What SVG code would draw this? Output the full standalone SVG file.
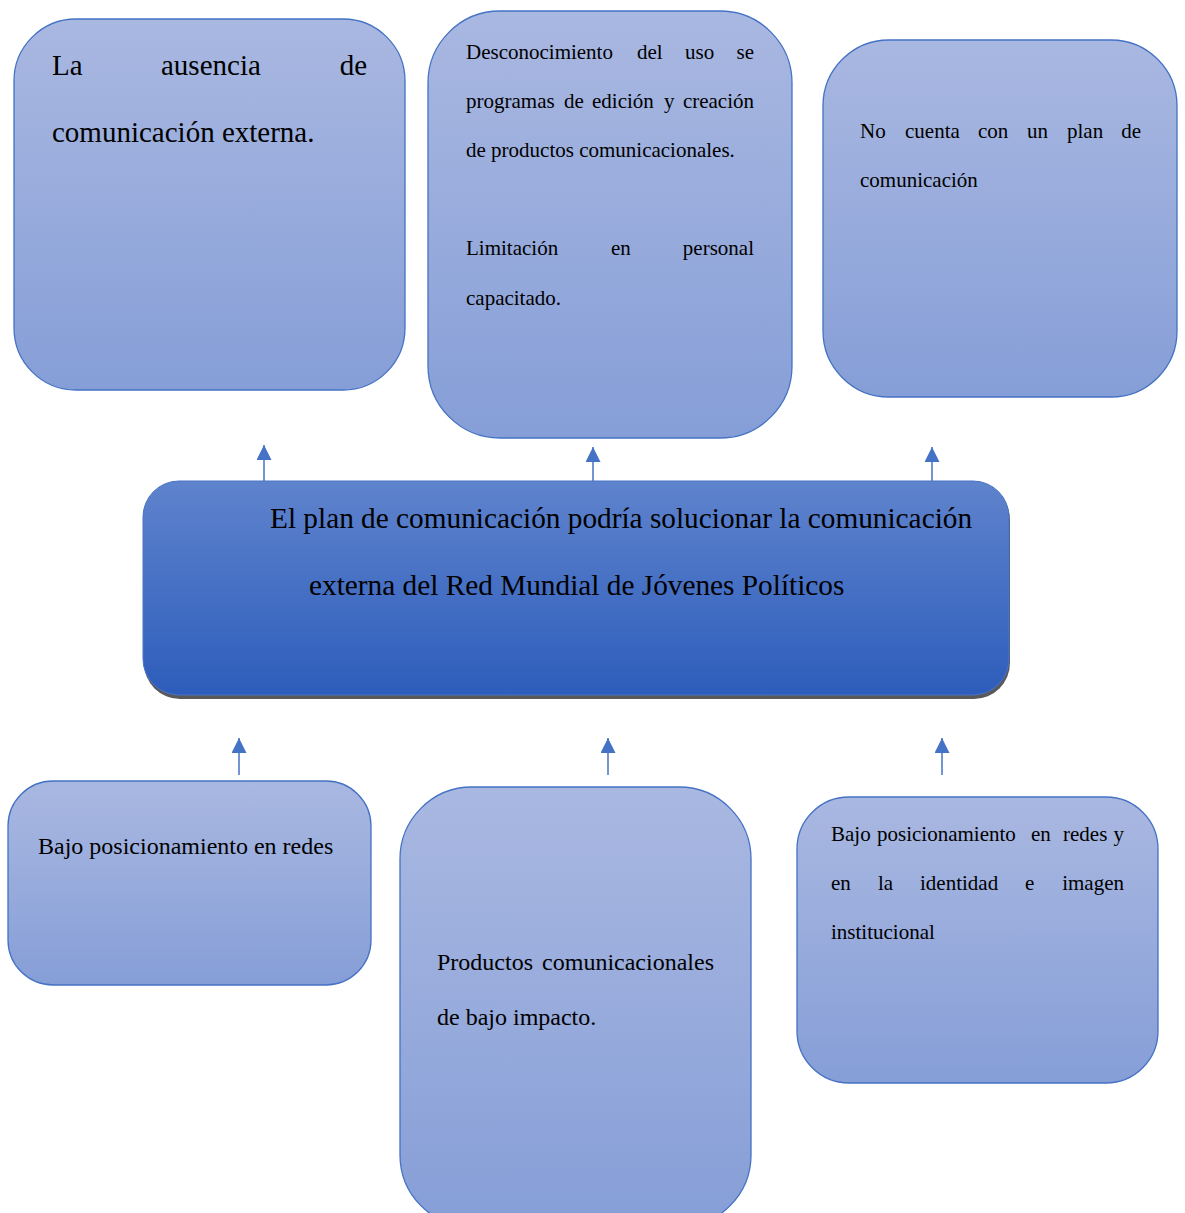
<svg xmlns="http://www.w3.org/2000/svg" width="1185" height="1213" viewBox="0 0 1185 1213">
<defs>
<linearGradient id="lg" x1="0" y1="0" x2="0" y2="1">
<stop offset="0" stop-color="#a9b8e1"/>
<stop offset="1" stop-color="#869ed7"/>
</linearGradient>
<linearGradient id="cg" x1="0" y1="0" x2="0" y2="1">
<stop offset="0" stop-color="#5f83cd"/>
<stop offset="1" stop-color="#2d5dbb"/>
</linearGradient>
<marker id="ah" markerUnits="userSpaceOnUse" markerWidth="16" markerHeight="17" refX="15" refY="7.5" orient="auto">
<path d="M0,0 L15,7.5 L0,15 Z" fill="#4472c4"/>
</marker>
<style>
.box{fill:url(#lg);stroke:#4472c4;stroke-width:1.3}
.t{font-family:"Liberation Serif","Times New Roman",serif;fill:#000}
.s21{font-size:21px}
.s24{font-size:24px}
.s29{font-size:29px}
.s29c{font-size:29.3px}
.e{text-anchor:end}
.c{stroke:#4472c4;stroke-width:1.5;fill:none;marker-end:url(#ah)}
</style>
</defs>

<g id="connectors">
<line class="c" x1="264" y1="481" x2="264" y2="445"/>
<line class="c" x1="593" y1="483" x2="593" y2="447"/>
<line class="c" x1="932" y1="483" x2="932" y2="447"/>
<line class="c" x1="239" y1="775" x2="239" y2="738"/>
<line class="c" x1="608" y1="775" x2="608" y2="738"/>
<line class="c" x1="942" y1="775" x2="942" y2="738"/>
</g>

<g id="node-ausencia">
<rect class="box" x="14" y="19" width="391" height="371" rx="62"/>
<text class="t s29" y="75"><tspan x="52">La</tspan><tspan x="161">ausencia</tspan><tspan x="367" class="e">de</tspan></text>
<text class="t s29" x="52" y="142">comunicación externa.</text>
</g>

<g id="node-desconocimiento">
<rect class="box" x="428" y="11" width="364" height="427" rx="72"/>
<text class="t s21" y="59"><tspan x="466">Desconocimiento</tspan><tspan x="637">del</tspan><tspan x="685">uso</tspan><tspan x="754" class="e">se</tspan></text>
<text class="t s21" y="108"><tspan x="466">programas</tspan><tspan x="564">de</tspan><tspan x="592">edición</tspan><tspan x="664">y</tspan><tspan x="754" class="e">creación</tspan></text>
<text class="t s21" x="466" y="157">de productos comunicacionales.</text>
<text class="t s21" y="255"><tspan x="466">Limitación</tspan><tspan x="611">en</tspan><tspan x="754" class="e">personal</tspan></text>
<text class="t s21" x="466" y="305">capacitado.</text>
</g>

<g id="node-plan">
<rect class="box" x="823" y="40" width="354" height="357" rx="66"/>
<text class="t s21" y="138"><tspan x="860">No</tspan><tspan x="905">cuenta</tspan><tspan x="978">con</tspan><tspan x="1027">un</tspan><tspan x="1067">plan</tspan><tspan x="1141" class="e">de</tspan></text>
<text class="t s21" x="860" y="187">comunicación</text>
</g>

<g id="node-center">
<rect x="144" y="484" width="866" height="215" rx="36" fill="#595959"/>
<rect x="143" y="481" width="866" height="214" rx="36" fill="url(#cg)" stroke="#4a74c6" stroke-width="1"/>
<text class="t s29c" x="270" y="528">El plan de comunicación podría solucionar la comunicación</text>
<text class="t s29c" x="309" y="595">externa del Red Mundial de Jóvenes Políticos</text>
</g>

<g id="node-bajo-redes">
<rect class="box" x="8" y="781" width="363" height="204" rx="45"/>
<text class="t s24" x="38" y="854">Bajo posicionamiento en redes</text>
</g>

<g id="node-productos">
<rect class="box" x="400" y="787" width="351" height="440" rx="72"/>
<text class="t s24" y="970"><tspan x="437">Productos</tspan><tspan x="714" class="e">comunicacionales</tspan></text>
<text class="t s24" x="437" y="1025">de bajo impacto.</text>
</g>

<g id="node-bajo-identidad">
<rect class="box" x="797" y="797" width="361" height="286" rx="52"/>
<text class="t s21" y="841"><tspan x="831">Bajo</tspan><tspan x="877">posicionamiento</tspan><tspan x="1031">en</tspan><tspan x="1063">redes</tspan><tspan x="1124" class="e">y</tspan></text>
<text class="t s21" y="890"><tspan x="831">en</tspan><tspan x="878">la</tspan><tspan x="920">identidad</tspan><tspan x="1025">e</tspan><tspan x="1124" class="e">imagen</tspan></text>
<text class="t s21" x="831" y="939">institucional</text>
</g>
</svg>
